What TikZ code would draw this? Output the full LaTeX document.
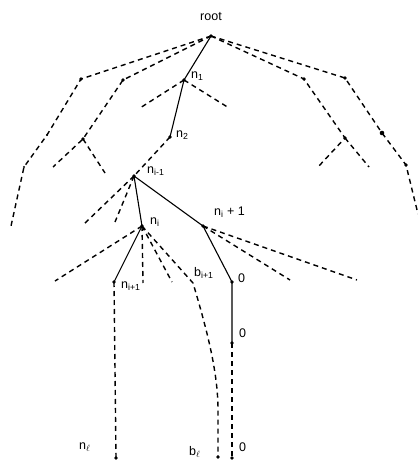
\documentclass[tikz,border=0pt]{standalone}
\usepackage{fontspec}
\setmainfont{Liberation Sans}
\begin{document}
\begin{tikzpicture}[x=1pt,y=-1pt,
  pt/.style={coordinate},
  alt/.style={line width=1.4pt,dash pattern=on 5pt off 4pt},
  path/.style={line width=1.1pt},
  dotmark/.style={fill=black},
  lbl/.style={inner sep=0pt,font=\fontsize{12.5}{14}\selectfont}]
\useasboundingbox (0,0) rectangle (417,462);

% tree nodes
\node[pt] (root) at (211,36) {};
\node[pt] (a1) at (81,79) {};
\node[pt] (a2) at (47,135) {};
\node[pt] (a3) at (24,167) {};
\node[pt] (a4) at (11,226) {};
\node[pt] (b1) at (123,80) {};
\node[pt] (b2) at (83,139) {};
\node[pt] (b3) at (53,167) {};
\node[pt] (b4) at (105,173) {};
\node[pt] (n1) at (184,80) {};
\node[pt] (n1l) at (140,108) {};
\node[pt] (n1r) at (229,108) {};
\node[pt] (n2) at (170,137) {};
\node[pt] (c1) at (304,79) {};
\node[pt] (c2) at (345,138) {};
\node[pt] (c3) at (318,167) {};
\node[pt] (c4) at (369,167) {};
\node[pt] (d1) at (345,78) {};
\node[pt] (d2) at (382,133) {};
\node[pt] (d3) at (406,165) {};
\node[pt] (d4) at (418,214) {};
\node[pt] (nim) at (134,176) {};
\node[pt] (e1) at (84,224) {};
\node[pt] (e2) at (115,222) {};
\node[pt] (ni) at (142,226) {};
\node[pt] (f1) at (55,281) {};
\node[pt] (f2) at (143,283) {};
\node[pt] (f3) at (172,282) {};
\node[pt] (bb) at (193,283) {};
\node[pt] (np) at (203,226) {};
\node[pt] (g1) at (290,280) {};
\node[pt] (g2) at (357,280) {};
\node[pt] (nip) at (114,282) {};
\node[pt] (nn) at (116,458) {};
\node[pt] (bn) at (218,457) {};
\node[pt] (z1) at (232,282) {};
\node[pt] (z2) at (232,343) {};
\node[pt] (z3) at (232,458) {};

% solid path through the tree
\draw[path] (root) -- (n1) -- (n2);
\draw[path] (nim) -- (ni) -- (nip);
\draw[path] (nim) -- (np) -- (z1) -- (z2);

% dashed alternatives
\draw[alt] (root) -- (a1) -- (a2) -- (a3) -- (a4);
\draw[alt] (root) -- (b1) -- (b2) -- (b3);
\draw[alt] (b2) -- (b4);
\draw[alt] (n1) -- (n1l);
\draw[alt] (n1) -- (n1r);
\draw[alt] (root) -- (c1) -- (c2) -- (c3);
\draw[alt] (c2) -- (c4);
\draw[alt] (root) -- (d1) -- (d2) -- (d3) -- (d4);
\draw[alt] (n2) -- (nim);
\draw[alt] (nim) -- (e1);
\draw[alt] (nim) -- (e2);
\draw[alt] (ni) -- (f1);
\draw[alt] (ni) -- (f2);
\draw[alt] (ni) -- (f3);
\draw[alt] (ni) -- (bb) .. controls (207,330) and (218,372) .. (218,410) -- (bn);
\draw[alt] (np) -- (g1);
\draw[alt] (np) -- (g2);
\draw[alt] (nip) -- (nn);
\draw[alt] (z2) -- (z3);

% node dots
\foreach \p in {root,a1,b1,b2,n1,n2,c1,c2,d1,d3,nim,ni,np,nip,nn,bn,z1,z2,z3}
  \fill[dotmark] (\p) circle (1.8pt);
\foreach \p in {a2,a3}
  \fill[dotmark] (\p) circle (1.2pt);
\fill[dotmark] (d2) circle (2.3pt);

% labels
\node[lbl] (lroot) at (211,17) {root};
\node[lbl,anchor=west] (ln1) at (191,76) {n\textsubscript{1}};
\node[lbl,anchor=west] (ln2) at (176,135) {n\textsubscript{2}};
\node[lbl,anchor=west] (lnim) at (147,171) {n\textsubscript{i-1}};
\node[lbl,anchor=west] (lni) at (150,222) {n\textsubscript{i}};
\node[lbl,anchor=west] (lnp) at (214,212) {n\textsubscript{i} + 1};
\node[lbl,anchor=west] (lbb) at (194,273) {b\textsubscript{i+1}};
\node[lbl,anchor=west] (lnip) at (121,286) {n\textsubscript{i+1}};
\node[lbl,anchor=west] (lz1) at (238,278) {0};
\node[lbl,anchor=west] (lz2) at (239,333) {0};
\node[lbl,anchor=west] (lz3) at (239,447) {0};
\node[lbl,anchor=west] (lnn) at (79,447) {n\textsubscript{$\ell$}};
\node[lbl,anchor=west] (lbn) at (189,452) {b\textsubscript{$\ell$}};
\end{tikzpicture}
\end{document}
